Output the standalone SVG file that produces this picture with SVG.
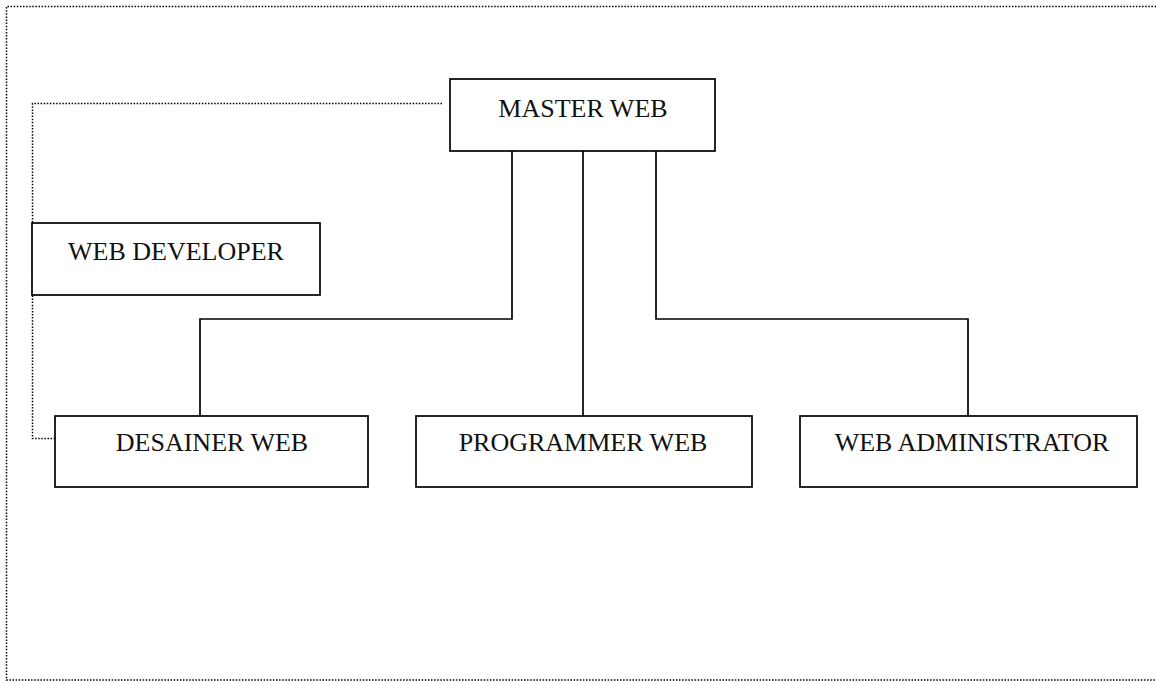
<svg xmlns="http://www.w3.org/2000/svg" width="1156" height="681" viewBox="0 0 1156 681">
<style>
.box{fill:#fff;stroke:#000;stroke-width:1.7}
.lbl{font-family:"Liberation Serif","Times New Roman",serif;font-size:26px;fill:#111;text-anchor:middle}
.dot{fill:none;stroke:#000;stroke-width:1.5;stroke-dasharray:1.5 1.6}
.con{fill:none;stroke:#000;stroke-width:1.7}
</style>
<rect width="1156" height="681" fill="#fff"/>
<g id="frame">
<path class="dot" d="M1156 6.5 H6.5 V680 H1156"/>
</g>
<g id="connectors">
<path class="dot" d="M442 103.5 H32.5 V438.5 H55"/>
<path class="con" d="M512 151 V319 H200 V416"/>
<path class="con" d="M583 151 V416"/>
<path class="con" d="M656 151 V319 H968 V416"/>
</g>
<g id="master-web">
<rect class="box" x="450" y="79" width="265" height="72"/>
<text class="lbl" x="583" y="117">MASTER WEB</text>
</g>
<g id="web-developer">
<rect class="box" x="32" y="223" width="288" height="72"/>
<text class="lbl" x="176" y="260">WEB DEVELOPER</text>
</g>
<g id="desainer-web">
<rect class="box" x="55" y="416" width="313" height="71"/>
<text class="lbl" x="212" y="451">DESAINER WEB</text>
</g>
<g id="programmer-web">
<rect class="box" x="416" y="416" width="336" height="71"/>
<text class="lbl" x="583" y="451">PROGRAMMER WEB</text>
</g>
<g id="web-administrator">
<rect class="box" x="800" y="416" width="337" height="71"/>
<text class="lbl" x="972" y="451">WEB ADMINISTRATOR</text>
</g>
</svg>
